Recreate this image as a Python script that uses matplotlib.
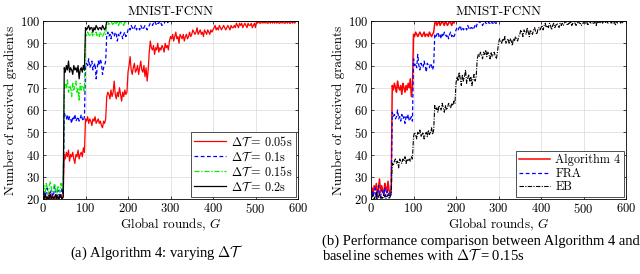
import numpy as np
import matplotlib
matplotlib.use("Agg")
import matplotlib.pyplot as plt

plt.rcParams['font.family'] = 'cmr10'
plt.rcParams['mathtext.fontset'] = 'cm'
plt.rcParams['axes.formatter.use_mathtext'] = True

# received gradients per round
# each block covers 50 rounds, one value every 2.5 rounds
STEP = 2.5

# (a) varying delta T
a_red = [
    [21, 20, 22, 21, 20, 21, 23, 20, 21, 22, 20, 21, 20, 22, 21, 20, 21, 22, 20, 21],
    [40, 38, 41, 39, 42, 37, 40, 39, 41, 38, 36, 40, 39, 42, 38, 40, 41, 39, 43, 41],
    [56, 55, 57, 54, 56, 55, 53, 56, 55, 57, 54, 55, 56, 54, 55, 53, 52, 55, 54, 56],
    [66, 68, 67, 65, 69, 66, 68, 73, 67, 65, 68, 66, 70, 67, 64, 68, 66, 69, 67, 68],
    [77, 80, 84, 78, 76, 79, 81, 77, 78, 80, 76, 79, 82, 78, 77, 80, 75, 79, 73, 78],
    [86, 91, 88, 87, 89, 85, 88, 87, 90, 86, 88, 87, 89, 88, 86, 90, 88, 89, 87, 91],
    [93, 92, 94, 91, 93, 95, 92, 93, 90, 94, 93, 92, 94, 91, 93, 94, 92, 93, 95, 93],
    [94, 96, 95, 94, 95, 97, 94, 95, 96, 94, 95, 93, 96, 95, 94, 96, 95, 94, 96, 95],
    [96, 97, 98, 96, 97, 96, 98, 97, 96, 97, 98, 97, 96, 97, 98, 97, 96, 98, 97, 97],
    [98, 97, 99, 98, 97, 99, 98, 99, 97, 98, 99, 98, 97, 99, 98, 98, 99, 97, 98, 99],
    [97, 100, 99, 100, 99, 99, 100, 99, 100, 99, 100, 99, 99, 100, 99, 100, 99, 100, 99, 100],
    [99, 100, 99, 99, 100, 99, 100, 99, 99, 100, 99, 100, 99, 99, 100, 99, 100, 99, 100, 100],
]
a_blue = [
    [22, 24, 21, 23, 25, 22, 20, 23, 24, 21, 22, 26, 23, 21, 24, 22, 20, 23, 25, 22],
    [59, 57, 56, 58, 55, 57, 56, 54, 57, 56, 58, 55, 56, 57, 55, 56, 58, 56, 55, 57],
    [79, 81, 80, 83, 79, 80, 82, 78, 80, 81, 74, 79, 82, 80, 83, 81, 76, 79, 80, 82],
    [94, 95, 93, 94, 92, 95, 94, 93, 95, 94, 91, 94, 93, 95, 94, 92, 94, 95, 93, 94],
    [96, 97, 96, 98, 97, 96, 97, 98, 96, 97, 97, 96, 98, 97, 96, 97, 98, 97, 96, 97],
    [98, 99, 99, 98, 99, 100, 99, 98, 99, 99, 100, 99, 98, 99, 99, 100, 99, 99, 100, 99],
]
a_green = [
    [24, 26, 23, 27, 25, 22, 26, 28, 24, 23, 25, 27, 24, 22, 26, 25, 23, 27, 24, 25],
    [69, 72, 70, 74, 68, 71, 70, 66, 72, 69, 71, 73, 68, 70, 64, 72, 69, 71, 70, 68],
    [94, 93, 95, 94, 93, 94, 95, 93, 94, 94, 95, 93, 94, 93, 95, 94, 93, 94, 95, 94],
    [99, 100, 98, 99, 100, 99, 98, 100, 99, 99, 100, 98, 99, 100, 99, 99, 98, 100, 99, 100],
]
a_black = [
    [21, 20, 22, 20, 21, 20, 21, 22, 20, 21, 20, 21, 22, 20, 21, 20, 22, 21, 20, 21],
    [79, 77, 80, 78, 82, 77, 79, 78, 76, 80, 78, 79, 77, 80, 74, 78, 79, 77, 80, 78],
    [97, 96, 97, 98, 96, 97, 97, 95, 97, 96, 98, 97, 96, 97, 97, 96, 98, 97, 96, 97],
]
a_labels = [r'$\Delta\mathcal{T}\;$= 0.05s', r'$\Delta\mathcal{T}\;$= 0.1s',
            r'$\Delta\mathcal{T}\;$= 0.15s', r'$\Delta\mathcal{T}\;$= 0.2s']

# (b) comparison with baselines, delta T = 0.15s
b_alg4 = [
    [23, 25, 22, 26, 24, 27, 21, 25, 29, 23, 26, 24, 22, 27, 25, 23, 28, 24, 22, 25],
    [71, 69, 72, 70, 68, 73, 70, 69, 71, 67, 72, 70, 68, 71, 69, 72, 70, 74, 66, 70],
    [94, 93, 95, 94, 93, 94, 95, 94, 93, 94, 95, 93, 94, 94, 93, 95, 94, 93, 94, 95],
    [99, 100, 98, 99, 100, 98, 99, 100, 99, 98, 100, 99, 98, 99, 100, 99, 98, 100, 99, 100],
]
b_fra = [
    [22, 24, 21, 23, 25, 20, 23, 26, 22, 21, 24, 23, 22, 25, 21, 23, 24, 22, 21, 23],
    [59, 57, 58, 56, 57, 60, 56, 57, 55, 58, 56, 57, 54, 57, 56, 58, 55, 56, 57, 55],
    [83, 80, 81, 79, 85, 80, 78, 81, 80, 79, 82, 80, 77, 81, 80, 79, 81, 80, 78, 80],
    [94, 93, 94, 95, 93, 94, 92, 94, 93, 95, 94, 93, 94, 92, 94, 95, 93, 94, 93, 94],
    [96, 97, 96, 97, 98, 96, 97, 96, 97, 97, 96, 98, 97, 96, 97, 97, 96, 97, 98, 97],
    [99, 99, 100, 99, 99, 98, 99, 100, 99, 99, 100, 99, 99, 100, 99, 99, 100, 99, 99, 100],
]
b_eb = [
    [20, 21, 22, 20, 21, 23, 20, 21, 22, 20, 21, 20, 22, 21, 20, 21, 22, 20, 21, 22],
    [36, 35, 37, 38, 36, 37, 34, 38, 37, 36, 38, 37, 39, 36, 38, 37, 38, 37, 39, 38],
    [48, 50, 49, 47, 50, 49, 51, 48, 49, 50, 47, 49, 50, 48, 51, 49, 50, 52, 49, 51],
    [62, 60, 61, 59, 62, 61, 60, 63, 61, 59, 62, 60, 61, 63, 62, 61, 63, 62, 64, 63],
    [72, 75, 73, 77, 74, 71, 76, 73, 75, 78, 72, 74, 76, 73, 75, 71, 74, 76, 73, 75],
    [83, 85, 84, 86, 85, 83, 86, 85, 87, 84, 86, 85, 83, 86, 84, 85, 86, 84, 83, 86],
    [90, 92, 91, 90, 92, 91, 93, 90, 91, 92, 90, 92, 91, 89, 92, 91, 93, 92, 91, 93],
    [94, 96, 95, 93, 96, 95, 94, 97, 95, 93, 96, 95, 94, 96, 97, 95, 94, 96, 97, 96],
    [97, 98, 96, 98, 99, 97, 98, 97, 99, 98, 96, 98, 99, 97, 98, 99, 98, 97, 99, 98],
    [99, 98, 99, 100, 99, 98, 99, 99, 100, 98, 99, 100, 99, 98, 99, 100, 99, 99, 98, 99],
    [99, 100, 99, 100, 98, 99, 100, 99, 100, 99, 99, 100, 98, 100, 99, 100, 99, 100, 99, 100],
    [100, 99, 100, 99, 100, 100, 99, 100, 99, 100, 98, 100, 99, 100, 100, 99, 100, 99, 100, 100],
]
b_labels = ['Algorithm 4', 'FRA', 'EB']

FINAL = 100  # level once every device reports
X_MAX = 600
FS = 9.5


def to_xy(blocks):
    y = np.concatenate([np.asarray(b, float) for b in blocks])
    x = np.arange(len(y)) * STEP
    end = len(y) * STEP
    if end < X_MAX:
        x = np.append(x, [end, X_MAX])
        y = np.append(y, [FINAL, FINAL])
    else:
        x = np.append(x, X_MAX)
        y = np.append(y, y[-1])
    return x, y


def style_axes(ax):
    ax.set_xlim(0, 600)
    ax.set_ylim(20, 100)
    ax.set_xticks(range(0, 601, 100))
    ax.set_yticks(range(20, 101, 10))
    ax.grid(True, color='#d9d9d9', lw=0.5)
    ax.set_axisbelow(True)
    ax.tick_params(direction='in', length=2.5, width=0.5, labelsize=9, pad=2,
                   top=True, right=True)
    for s in ax.spines.values():
        s.set_linewidth(0.6)
    ax.set_title('MNIST-FCNN', fontsize=FS, pad=4)
    ax.set_xlabel('Global rounds, $G$', fontsize=FS, labelpad=1)
    ax.set_ylabel('Number of received gradients', fontsize=FS, labelpad=2)


def add_legend(ax):
    leg = ax.legend(loc='lower right', fontsize=8.8, handlelength=2.6, handletextpad=0.4,
                    borderpad=0.25, labelspacing=0.12, fancybox=False, framealpha=1,
                    edgecolor='#333333', borderaxespad=0.2)
    leg.get_frame().set_linewidth(0.6)


fig = plt.figure(figsize=(6.4, 2.74), dpi=100)
ax1 = fig.add_axes([43 / 640, 1 - 199 / 274, 255 / 640, 178 / 274])
ax2 = fig.add_axes([371 / 640, 1 - 199 / 274, 255 / 640, 178 / 274])

styles_a = [
    dict(color='red', lw=0.9, ls='-'),
    dict(color='blue', lw=0.9, ls=(0, (3, 2))),
    dict(color='#00ee00', lw=0.9, ls=(0, (4, 1.5, 1, 1.5))),
    dict(color='black', lw=0.9, ls='-'),
]
for blocks, st, lab in zip([a_red, a_blue, a_green, a_black], styles_a, a_labels):
    x, y = to_xy(blocks)
    ax1.plot(x, y, label=lab, **st)
style_axes(ax1)
add_legend(ax1)

styles_b = [
    dict(color='red', lw=1.1, ls='-'),
    dict(color='blue', lw=0.9, ls=(0, (3, 2))),
    dict(color='black', lw=0.8, ls=(0, (4, 1.2, 1, 1.2))),
]
for blocks, st, lab in zip([b_alg4, b_fra, b_eb], styles_b, b_labels):
    x, y = to_xy(blocks)
    ax2.plot(x, y, label=lab, **st)
style_axes(ax2)
add_legend(ax2)

CAP = 10.5
cap_font = ['Liberation Serif', 'DejaVu Serif']
fig.text(157 / 640, 1 - 253 / 274, r'(a) Algorithm 4: varying $\Delta\mathcal{T}$',
         ha='center', va='center', fontsize=CAP, family=cap_font)
fig.text(322 / 640, 1 - 241 / 274, '(b) Performance comparison between Algorithm 4 and',
         ha='left', va='center', fontsize=CAP, family=cap_font)
fig.text(322 / 640, 1 - 255 / 274, r'baseline schemes with $\Delta\mathcal{T}\;$= 0.15s',
         ha='left', va='center', fontsize=CAP, family=cap_font)

fig.savefig('out.png', dpi=100)
